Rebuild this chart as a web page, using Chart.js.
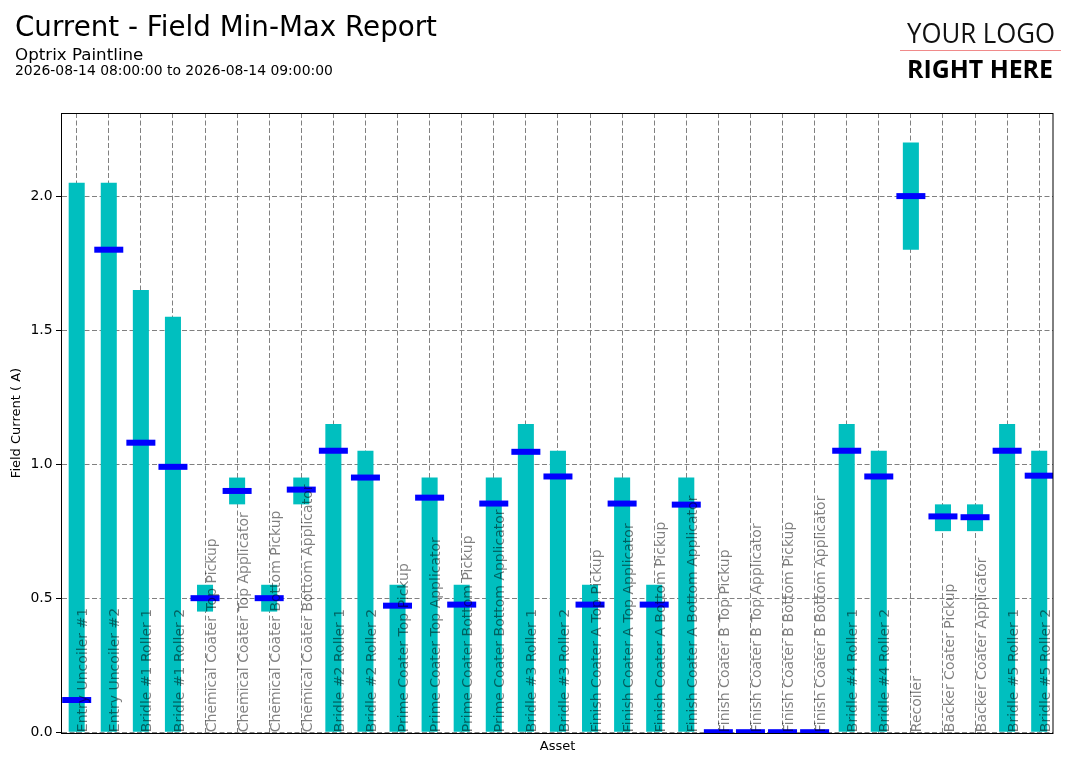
<!DOCTYPE html>
<html>
<head>
<meta charset="utf-8">
<script src="https://cdn.jsdelivr.net/npm/chart.js@4.4.1/dist/chart.umd.min.js"></script>
<style>
  html, body { margin: 0; padding: 0; background: #ffffff; }
  #c { display: block; }
</style>
</head>
<body>
<canvas id="c" width="1077" height="764"></canvas>
<script>
const categories = [
  "Entry Uncoiler #1", "Entry Uncoiler #2", "Bridle #1 Roller 1", "Bridle #1 Roller 2",
  "Chemical Coater Top Pickup", "Chemical Coater Top Applicator",
  "Chemical Coater Bottom Pickup", "Chemical Coater Bottom Applicator",
  "Bridle #2 Roller 1", "Bridle #2 Roller 2",
  "Prime Coater Top Pickup", "Prime Coater Top Applicator",
  "Prime Coater Bottom Pickup", "Prime Coater Bottom Applicator",
  "Bridle #3 Roller 1", "Bridle #3 Roller 2",
  "Finish Coater A Top Pickup", "Finish Coater A Top Applicator",
  "Finish Coater A Bottom Pickup", "Finish Coater A Bottom Applicator",
  "Finish Coater B Top Pickup", "Finish Coater B Top Applicator",
  "Finish Coater B Bottom Pickup", "Finish Coater B Bottom Applicator",
  "Bridle #4 Roller 1", "Bridle #4 Roller 2", "Recoiler",
  "Backer Coater Pickup", "Backer Coater Applicator",
  "Bridle #5 Roller 1", "Bridle #5 Roller 2"
];
const minValues = [0, 0, 0, 0, 0.45, 0.85, 0.45, 0.85, 0, 0, 0, 0, 0, 0, 0, 0,
  0, 0, 0, 0, 0, 0, 0, 0, 0, 0, 1.80, 0.75, 0.75, 0, 0];
const maxValues = [2.05, 2.05, 1.65, 1.55, 0.55, 0.95, 0.55, 0.95, 1.15, 1.05, 0.55, 0.95, 0.55, 0.95, 1.15, 1.05,
  0.55, 0.95, 0.55, 0.95, 0, 0, 0, 0, 1.15, 1.05, 2.20, 0.85, 0.85, 1.15, 1.05];
const currentValues = [0.12, 1.80, 1.08, 0.99, 0.50, 0.90, 0.50, 0.905, 1.05, 0.95, 0.472, 0.875, 0.476, 0.853, 1.046, 0.954,
  0.476, 0.853, 0.476, 0.849, 0, 0, 0, 0, 1.05, 0.954, 2.00, 0.805, 0.802, 1.05, 0.957];
const yTickValues = [0.0, 0.5, 1.0, 1.5, 2.0];

const titleText = "Current - Field Min-Max Report";
const subtitleText = "Optrix Paintline";
const rangeText = "2026-08-14 08:00:00 to 2026-08-14 09:00:00";
const xTitle = "Asset";
const yTitle = "Field Current ( A)";

Chart.defaults.font.family = "'DejaVu Sans', sans-serif";
Chart.defaults.color = "#000000";

const headerPlugin = {
  id: 'header',
  afterDraw(chart) {
    const ctx = chart.ctx;
    ctx.save();
    ctx.fillStyle = '#000000';
    ctx.textAlign = 'left';
    ctx.textBaseline = 'alphabetic';
    ctx.font = "28px 'DejaVu Sans'";
    ctx.fillText(titleText, 15, 36, 422);
    ctx.font = "16.7px 'DejaVu Sans'";
    ctx.fillText(subtitleText, 15, 59.5);
    ctx.font = "13.9px 'DejaVu Sans'";
    ctx.fillText(rangeText, 15, 75);
    // logo
    ctx.fillStyle = '#111111';
    ctx.font = "27px 'Open Sans'";
    ctx.fillText("YOUR LOGO", 907, 42.7, 148);
    ctx.strokeStyle = '#F08A8A';
    ctx.lineWidth = 1;
    ctx.beginPath();
    ctx.moveTo(900, 50.5);
    ctx.lineTo(1061, 50.5);
    ctx.stroke();
    ctx.fillStyle = '#000000';
    ctx.font = "bold 25px 'Open Sans'";
    ctx.fillText("RIGHT HERE", 907, 78, 146);
    ctx.restore();
  }
};

const labelPlugin = {
  id: 'innerLabels',
  afterDatasetsDraw(chart) {
    const ctx = chart.ctx;
    const xs = chart.scales.x, ys = chart.scales.y;
    const a = chart.chartArea;
    ctx.save();
    // frame
    ctx.strokeStyle = '#000000';
    ctx.lineWidth = 1;
    ctx.strokeRect(Math.round(a.left) - 0.5, Math.round(a.top) + 0.5,
      Math.round(a.right - a.left) + 0.5, Math.round(a.bottom - a.top));
    // labels
    ctx.font = "14px 'DejaVu Sans'";
    ctx.fillStyle = 'rgba(0,0,0,0.5)';
    ctx.textAlign = 'left';
    ctx.textBaseline = 'alphabetic';
    const y0 = ys.getPixelForValue(0);
    categories.forEach((lab, i) => {
      const x = xs.getPixelForValue(i);
      ctx.save();
      ctx.translate(x, y0);
      ctx.rotate(-Math.PI / 2);
      ctx.fillText(lab, 0, 10.6);
      ctx.restore();
    });
    ctx.restore();
  }
};

new Chart(document.getElementById('c'), {
  type: 'bar',
  data: {
    datasets: [
      {
        type: 'line',
        label: 'Current',
        data: currentValues.map((v, i) => ({ x: i, y: v })),
        showLine: false,
        pointStyle: 'line',
        pointRadius: 14.5,
        pointHoverRadius: 14.5,
        pointBorderWidth: 6,
        pointHoverBorderWidth: 6,
        pointBorderColor: '#0000FF',
        pointBackgroundColor: '#0000FF',
        borderColor: '#0000FF',
        clip: 0,
        order: 0
      },
      {
        type: 'bar',
        label: 'Range',
        data: minValues.map((m, i) => ({ x: i, y: [m, maxValues[i]] })),
        backgroundColor: '#00BFBF',
        borderWidth: 0,
        barPercentage: 0.5,
        categoryPercentage: 1.0,
        order: 1
      }
    ]
  },
  options: {
    responsive: false,
    animation: false,
    events: [],
    layout: { padding: { top: 113, right: 24, left: 0, bottom: 0 } },
    plugins: {
      legend: { display: false },
      tooltip: { enabled: false }
    },
    scales: {
      x: {
        type: 'linear',
        min: -0.458,
        max: 30.43,
        offset: false,
        afterBuildTicks(scale) { scale.ticks = categories.map((c, i) => ({ value: i })); },
        grid: {
          offset: false,
          color: '#808080',
          lineWidth: 1,
          drawTicks: false,
          tickLength: 0
        },
        border: { display: false, dash: [5, 2.5] },
        ticks: { display: false },
        title: {
          display: true,
          text: xTitle,
          font: { size: 13 },
          color: '#000000',
          padding: { top: 0, bottom: 10 }
        },
        afterFit(scale) { scale.height = 31; }
      },
      y: {
        min: -0.003,
        max: 2.31,
        afterBuildTicks(scale) { scale.ticks = yTickValues.map(v => ({ value: v })); },
        grid: {
          color: '#808080',
          lineWidth: 1,
          tickColor: '#000000',
          tickBorderDash: [],
          tickWidth: 1,
          tickLength: 6
        },
        border: { display: false, dash: [5, 2.5] },
        ticks: {
          padding: 3.5,
          font: { size: 13.9 },
          color: '#000000',
          callback: (v) => Number(v).toFixed(1)
        },
        title: {
          display: true,
          text: yTitle,
          font: { size: 13 },
          color: '#000000',
          padding: { top: 8.5, bottom: 0 }
        },
        afterFit(scale) { scale.width = 62; }
      }
    }
  },
  plugins: [headerPlugin, labelPlugin]
});
</script>
</body>
</html>
